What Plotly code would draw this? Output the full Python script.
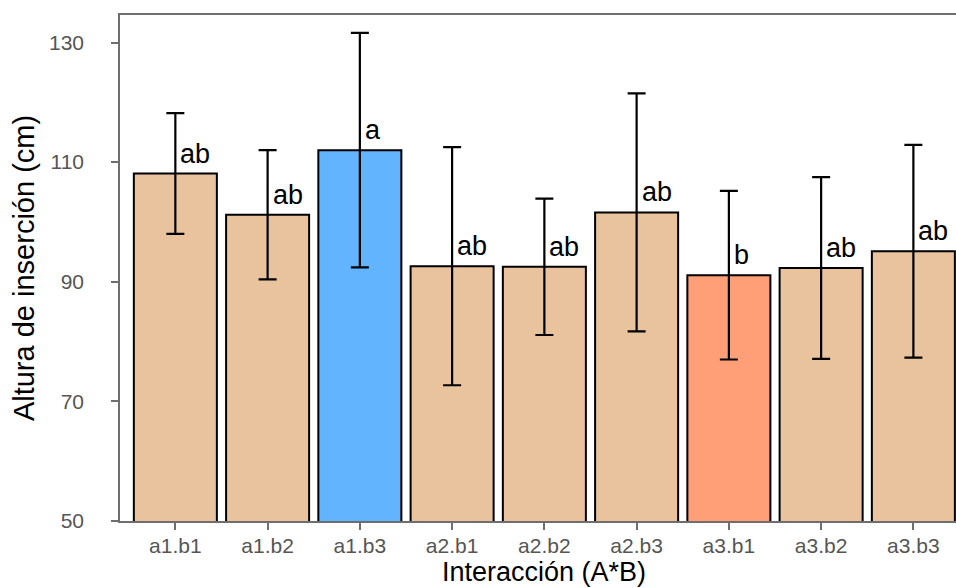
import plotly.graph_objects as go

# Treatment combinations (factor A x factor B)
categories = ["a1.b1", "a1.b2", "a1.b3", "a2.b1", "a2.b2", "a2.b3", "a3.b1", "a3.b2", "a3.b3"]
# Mean insertion height (cm) and error half-widths
means = [108.1, 101.2, 112.0, 92.6, 92.5, 101.6, 91.1, 92.3, 95.1]
errors = [10.1, 10.8, 19.6, 19.9, 11.4, 19.9, 14.1, 15.2, 17.8]
# Tukey grouping letters
letters = ["ab", "ab", "a", "ab", "ab", "ab", "b", "ab", "ab"]
# Fill per bar: highest mean blue, lowest salmon, the rest tan
fills = ["#E8C39E", "#E8C39E", "#63B4FF", "#E8C39E", "#E8C39E", "#E8C39E", "#FF9F78", "#E8C39E", "#E8C39E"]

y_ticks = [50, 70, 90, 110, 130]
x_title = "Interacción (A*B)"
y_title = "Altura de inserción (cm)"

W, H = 956, 588
M_L, M_R, M_T, M_B = 120, 0, 15, 67
plot_h = H - M_T - M_B

fig = go.Figure()
fig.add_trace(go.Bar(
    x=list(range(len(categories))),
    y=means,
    marker=dict(color=fills, line=dict(color="black", width=2)),
    width=0.9,
    error_y=dict(type="data", array=errors, visible=True,
                 color="black", thickness=2.2, width=9),
    showlegend=False,
    hoverinfo="skip",
))

for i, (m, lab) in enumerate(zip(means, letters)):
    fig.add_annotation(
        x=i, y=m, text=lab, showarrow=False,
        xanchor="left", yanchor="bottom", xshift=3, yshift=3,
        font=dict(family="Liberation Sans, Arial", size=27, color="black"),
    )

axis_grey = "#6E6E6E"
tick_font = dict(family="Liberation Sans, Arial", size=21, color="#555555")

# x-axis title centred under the category block, resting on the bottom edge
fig.add_annotation(
    x=(len(categories) - 1) / 2, xref="x", y=-M_B / plot_h, yref="paper",
    text=x_title, showarrow=False, xanchor="center", yanchor="bottom",
    borderpad=0, font=dict(family="Liberation Sans, Arial", size=27, color="black"),
)

fig.update_layout(
    width=W, height=H,
    margin=dict(l=M_L, r=M_R, t=M_T, b=M_B),
    paper_bgcolor="white", plot_bgcolor="white",
    font=dict(family="Liberation Sans, Arial"),
    xaxis=dict(
        range=[-0.6, 8.462],
        tickmode="array", tickvals=list(range(len(categories))), ticktext=categories,
        showline=True, linecolor=axis_grey, linewidth=1.5, mirror=True,
        ticks="outside", ticklen=7, tickwidth=1.5, tickcolor=axis_grey,
        tickfont=tick_font, ticklabelstandoff=-2, showgrid=False, zeroline=False,
    ),
    yaxis=dict(
        range=[50, 134.6],
        tickmode="array", tickvals=y_ticks,
        showline=True, linecolor=axis_grey, linewidth=1.5,
        ticks="outside", ticklen=7, tickwidth=1.5, tickcolor=axis_grey,
        tickfont=tick_font, ticklabelstandoff=23, showgrid=False, zeroline=False,
        title=dict(text=y_title, font=dict(family="Liberation Sans, Arial", size=29, color="black"),
                   standoff=6),
    ),
)

fig.write_html("out.html")
